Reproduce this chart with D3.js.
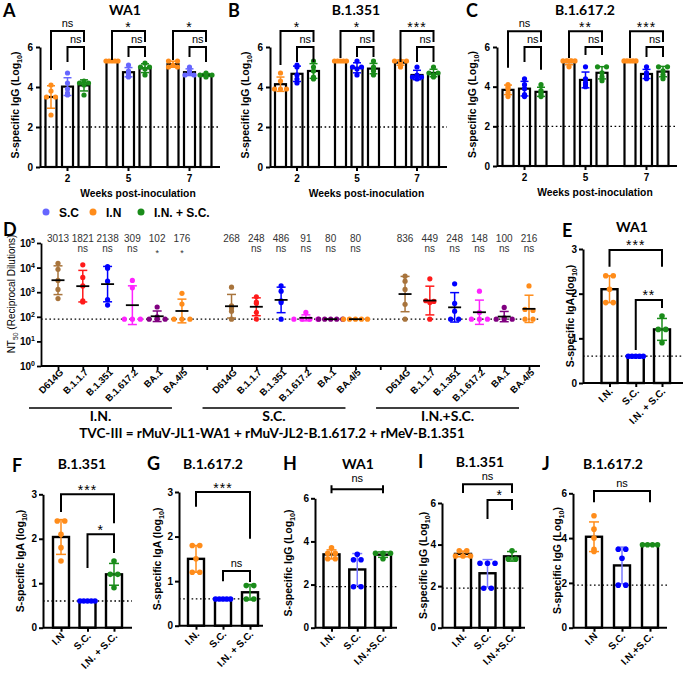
<!DOCTYPE html>
<html>
<head>
<meta charset="utf-8">
<script src="https://cdn.jsdelivr.net/npm/d3@7"></script>
<style>
body { margin: 0; background: #fff; }
text { font-family: "Liberation Sans", Arial, sans-serif; fill: #000; }
.cal { font-family: Lato, "Open Sans", sans-serif; font-weight: 700; }
</style>
</head>
<body>
<script>
const W = 683, H = 675;
const svg = d3.select("body").append("svg").attr("width", W).attr("height", H);

const ORANGE = "#ff8c1a", GREEN = "#1a8c1a", BLUE = "#0000ff", LBLUE = "#6666ff";

// ---------- A-C : S-specific IgG by week ----------
const weeks = ["2", "5", "7"];
const routes = ["I.N", "S.C", "I.N. + S.C."];
// [week][route] -> log10 titres per mouse
const iggWA1 = [
  [[4.1, 3.8, 3.5, 3.5, 2.6], [4.7, 4.2, 3.9, 3.7, 3.6], [4.3, 4.2, 4.2, 4.1, 3.6]],
  [[5.3, 5.3, 5.3, 5.3, 5.3], [5.1, 4.8, 4.7, 4.6, 4.5], [5.2, 5.0, 5.0, 4.9, 4.6]],
  [[5.3, 5.3, 5.1, 5.0, 5.0], [5.0, 4.8, 4.7, 4.6, 4.6], [4.7, 4.6, 4.6, 4.6, 4.5]]
];
const iggB1351 = [
  [[4.7, 4.3, 3.9, 3.9, 3.9], [5.1, 5.0, 4.6, 4.4, 4.2], [5.3, 5.0, 4.8, 4.5, 4.4]],
  [[5.3, 5.3, 5.3, 5.3, 5.3], [5.3, 5.0, 5.0, 4.9, 4.6], [5.3, 5.0, 4.9, 4.8, 4.6]],
  [[5.3, 5.3, 5.3, 5.2, 5.0], [5.0, 4.6, 4.5, 4.5, 4.4], [5.0, 4.7, 4.7, 4.6, 4.5]]
];
const iggB16172 = [
  [[4.1, 4.0, 3.9, 3.7, 3.5], [4.4, 4.1, 3.9, 3.6, 3.5], [4.1, 3.8, 3.7, 3.6, 3.5]],
  [[5.3, 5.3, 5.3, 5.3, 5.0], [5.0, 4.4, 4.2, 4.1, 4.0], [5.0, 5.0, 4.7, 4.5, 4.3]],
  [[5.3, 5.3, 5.3, 5.3, 5.3], [5.0, 4.7, 4.6, 4.5, 4.4], [5.0, 5.0, 4.8, 4.6, 4.4]]
];
const sigTopA = ["ns", "*", "*"], sigTopB = ["*", "*", "***"], sigTopC = ["ns", "**", "***"];
const sigLow = ["ns", "ns", "ns"];

// ---------- D : NT50 ----------
const variants = ["D614G", "B.1.1.7", "B.1.351", "B.1.617.2", "BA.1", "BA.4/5"];
const variantColors = ["#a8743c", "#ff1a1a", "#0000ff", "#ff22ff", "#800080", "#ff8c1a"];
const dRoutes = ["I.N.", "S.C.", "I.N.+S.C."];
const nt50IN = [
  [15000, 8500, 3000, 1300, 550], [13000, 4000, 1800, 450, 400], [11000, 9500, 2800, 500, 300],
  [3000, 1500, 80, 80, 80], [250, 100, 80, 80, 80], [900, 330, 80, 80, 80]
];
const nt50SC = [
  [1600, 280, 230, 170, 80], [650, 400, 350, 150, 80], [1800, 1100, 450, 380, 80],
  [150, 80, 80, 80, 80], [80, 80, 80, 80, 80], [80, 80, 80, 80, 80]
];
const nt50INSC = [
  [4500, 2800, 1300, 320, 80], [3500, 450, 420, 380, 80], [2200, 350, 170, 80, 80],
  [1100, 150, 80, 80, 80], [240, 90, 80, 80, 80], [1800, 200, 180, 80, 80]
];
const gmtIN = ["3013", "1821", "2138", "309", "102", "176"];
const gmtSC = ["268", "248", "486", "91", "80", "80"];
const gmtINSC = ["836", "449", "248", "148", "100", "216"];
const sigIN = ["", "ns", "ns", "ns", "*", "*"];
const sigSC = ["", "ns", "ns", "ns", "ns", "ns"];
const sigINSC = ["", "ns", "ns", "ns", "ns", "ns"];

// ---------- E-J : IgA / IgG per route ----------
const igaWA1 = [[2.4, 2.4, 2.1, 1.8, 1.8], [0.6, 0.6, 0.6, 0.6, 0.6], [1.5, 1.2, 1.2, 0.9]];
const igaB1351 = [[2.4, 2.4, 2.1, 1.8, 1.5], [0.6, 0.6, 0.6, 0.6, 0.6], [1.5, 1.2, 1.2, 0.9]];
const igaB16172 = [[1.8, 1.8, 1.5, 1.2, 1.2], [0.6, 0.6, 0.6, 0.6, 0.6], [0.9, 0.9, 0.6, 0.6]];
const iggWA1b = [[3.7, 3.45, 3.45, 3.2, 3.2], [3.4, 3.15, 3.15, 1.9, 1.9], [3.45, 3.45, 3.45, 3.2]];
const iggB1351b = [[3.7, 3.7, 3.45, 3.45, 3.45], [3.1, 3.1, 3.1, 1.9, 1.9], [3.7, 3.3, 3.3]];
const iggB16172b = [[5.0, 4.4, 4.0, 3.5, 3.4], [3.5, 3.5, 3.1, 1.9, 1.9], [3.7, 3.7, 3.7, 3.7]];

// ---------- helpers ----------
function spread(vals, tol, gapFn) {
  const idx = vals.map((v, i) => i).sort((a, b) => vals[b] - vals[a]);
  const off = vals.map(() => 0);
  let i = 0;
  while (i < idx.length) {
    let j = i;
    while (j + 1 < idx.length && Math.abs(vals[idx[j + 1]] - vals[idx[i]]) <= tol) j++;
    const n = j - i + 1, step = gapFn(n);
    for (let k = i; k <= j; k++) off[idx[k]] = (k - i - (n - 1) / 2) * step;
    i = j + 1;
  }
  return off;
}

function styleAxis(sel, w) {
  sel.attr("font-family", null);
  sel.selectAll("path, line").attr("stroke", "#000").attr("stroke-width", w || 2);
  sel.selectAll("text").attr("font-weight", "bold").attr("font-size", 10).attr("fill", "#000");
}

function hline(g, x1, x2, y, dash) {
  g.append("line").attr("x1", x1).attr("x2", x2).attr("y1", y).attr("y2", y)
    .attr("stroke", "#000").attr("stroke-width", dash ? 1.3 : 2)
    .attr("stroke-dasharray", dash ? "1.6,2.6" : null);
}

function yLabel(x, y, main, sub, tail, size, weight) {
  const t = svg.append("text").attr("transform", `translate(${x},${y}) rotate(-90)`)
    .attr("text-anchor", "middle").attr("font-size", size).attr("font-weight", weight);
  t.append("tspan").text(main);
  t.append("tspan").attr("font-size", size * 0.68).attr("dy", 3).text(sub);
  t.append("tspan").attr("dy", -3).text(tail);
}

function letter(x, y, s) {
  svg.append("text").attr("class", "cal").attr("x", x).attr("y", y).attr("font-size", 18).text(s);
}
function title(x, y, s) {
  svg.append("text").attr("class", "cal").attr("x", x).attr("y", y).attr("font-size", 14)
    .attr("text-anchor", "middle").text(s);
}

// bracket: legs go down from level to ya / yb
function bracket(g, xa, xb, level, ya, yb, label) {
  g.append("path").attr("d", `M${xa},${ya}V${level}H${xb}V${yb}`)
    .attr("fill", "none").attr("stroke", "#000").attr("stroke-width", 2);
  const star = label.indexOf("*") >= 0;
  g.append("text").attr("x", (xa + xb) / 2).attr("y", star ? level + 0.5 : level - 4)
    .attr("text-anchor", "middle").attr("font-size", star ? 14 : 11)
    .attr("letter-spacing", star ? 1 : 0).text(label);
}

function errBar(g, cx, yLo, yHi, color, cap) {
  g.append("line").attr("x1", cx).attr("x2", cx).attr("y1", yLo).attr("y2", yHi)
    .attr("stroke", color).attr("stroke-width", 1.5);
  [yLo, yHi].forEach(yy => g.append("line").attr("x1", cx - cap).attr("x2", cx + cap)
    .attr("y1", yy).attr("y2", yy).attr("stroke", color).attr("stroke-width", 1.5));
}

// ---------- grouped IgG panels ----------
function timePanel(p) {
  const g = svg.append("g");
  const y = d3.scaleLinear().domain([0, 6]).range([p.y0, p.y6]);
  const x = d3.scaleBand().domain(weeks).range([p.left - 3, p.right]);
  const xi = d3.scalePoint().domain(routes).range([-16.5, 16.5]);
  const colors = [ORANGE, p.blue, GREEN];
  const cxOf = (wi, ri) => x(weeks[wi]) + x.bandwidth() / 2 + xi(routes[ri]);

  weeks.forEach((w, wi) => routes.forEach((r, ri) => {
    const v = p.data[wi][ri], m = d3.mean(v);
    const cx = cxOf(wi, ri);
    g.append("rect").attr("x", cx - 5.5).attr("width", 11).attr("y", y(m))
      .attr("height", y(0) - y(m)).attr("fill", "#fff").attr("stroke", "#000").attr("stroke-width", 2.2);
  }));
  hline(g, p.left, p.right, y(2), true);
  weeks.forEach((w, wi) => routes.forEach((r, ri) => {
    const v = p.data[wi][ri], m = d3.mean(v), s = d3.deviation(v);
    const cx = cxOf(wi, ri);
    errBar(g, cx, y(m - s), y(Math.min(m + s, 5.6)), colors[ri], 4);
    const off = spread(v, 0.06, n => n <= 2 ? 9 : 12 / (n - 1));
    v.forEach((d, k) => g.append("circle").attr("cx", cx + off[k]).attr("cy", y(d))
      .attr("r", 2.6).attr("fill", colors[ri]));
  }));

  const ya = g.append("g").attr("transform", `translate(${p.left},0)`)
    .call(d3.axisLeft(y).tickValues([0, 2, 4, 6]).tickFormat(d3.format("d"))
      .tickSize(4).tickSizeOuter(0).tickPadding(3));
  styleAxis(ya);
  const xa = g.append("g").attr("transform", `translate(0,${p.y0})`)
    .call(d3.axisBottom(x).tickSize(4).tickPadding(4));
  xa.select(".domain").remove();
  styleAxis(xa);
  hline(g, p.left, p.right, p.y0);

  p.sigTop.forEach((t, wi) => {
    const [l1, l2, l3] = p.legs[wi];
    bracket(g, cxOf(wi, 0), cxOf(wi, 2), y(6.8), y(l1), y(6.25), t);
    bracket(g, cxOf(wi, 1), cxOf(wi, 2), y(6.0), y(l2), y(l3), sigLow[wi]);
  });

  g.append("text").attr("x", (p.left + p.right) / 2 + 8).attr("y", p.y0 + 30)
    .attr("text-anchor", "middle").attr("font-size", 10.3).attr("font-weight", "bold")
    .text("Weeks post-inoculation");
  yLabel(p.left - 21, (p.y0 + p.y6) / 2 - 2, "S-specific IgG (Log", "10", ")", 10.5, "bold");
  letter(p.letterX, 17, p.letter);
  title(p.titleX, 15, p.title);
}

timePanel({ left: 40, right: 220, y0: 167, y6: 47, data: iggWA1, blue: LBLUE, sigTop: sigTopA,
  legs: [[4.85, 5.25, 4.85], [5.35, 5.5, 5.5], [5.35, 5.5, 5.25]],
  letter: "A", letterX: 3, title: "WA1", titleX: 125 });
timePanel({ left: 270, right: 447, y0: 167, y6: 47, data: iggB1351, blue: BLUE, sigTop: sigTopB,
  legs: [[5.1, 5.25, 5.25], [5.45, 5.5, 5.5], [5.25, 5.25, 5.25]],
  letter: "B", letterX: 228, title: "B.1.351", titleX: 356 });
timePanel({ left: 497, right: 677, y0: 166, y6: 47, data: iggB16172, blue: BLUE, sigTop: sigTopC,
  legs: [[4.95, 5.25, 4.85], [5.45, 5.6, 5.6], [5.45, 5.5, 5.5]],
  letter: "C", letterX: 466, title: "B.1.617.2", titleX: 585 });

// legend
const legItems = [["S.C", LBLUE, 46], ["I.N", ORANGE, 93], ["I.N. + S.C.", GREEN, 141]];
legItems.forEach(([t, c, lx]) => {
  svg.append("circle").attr("cx", lx).attr("cy", 212).attr("r", 3.5).attr("fill", c);
  svg.append("text").attr("x", lx + 13).attr("y", 216.5).attr("font-size", 12)
    .attr("font-weight", "bold").text(t);
});

// ---------- D ----------
(function () {
  const g = svg.append("g");
  const slots = [];
  dRoutes.forEach((r, ri) => {
    variants.forEach(v => slots.push(r + "|" + v));
    if (ri < 2) slots.push("gap" + ri);
  });
  const x = d3.scalePoint().domain(slots).range([58, 529]);
  const y = d3.scaleLog().domain([1, 1e5]).range([366, 243]);
  const sets = [[nt50IN, gmtIN, sigIN], [nt50SC, gmtSC, sigSC], [nt50INSC, gmtINSC, sigINSC]];

  hline(g, 41, 540, y(80), true);

  sets.forEach(([vals, gmt, sig], ri) => {
    variants.forEach((v, vi) => {
      const cx = x(dRoutes[ri] + "|" + v);
      const logs = vals[vi].map(Math.log10);
      const m = d3.mean(logs), s = d3.deviation(logs);
      const col = variantColors[vi];
      if (s > 0.01) errBar(g, cx, y(Math.pow(10, m - s)), y(Math.pow(10, m + s)), col, 4.5);
      const off = spread(logs, 0.05, n => n <= 3 ? 8 : 24 / (n - 1));
      logs.forEach((d, k) => g.append("circle").attr("cx", cx + off[k]).attr("cy", y(Math.pow(10, d)))
        .attr("r", 2.6).attr("fill", col));
      g.append("line").attr("x1", cx - 6.5).attr("x2", cx + 6.5)
        .attr("y1", y(Math.pow(10, m))).attr("y2", y(Math.pow(10, m)))
        .attr("stroke", "#000").attr("stroke-width", 1.8);
      g.append("text").attr("x", cx).attr("y", 241.5).attr("text-anchor", "middle")
        .attr("font-size", 10).style("fill", "#333").text(gmt[vi]);
      if (sig[vi]) g.append("text").attr("x", cx).attr("y", sig[vi] === "*" ? 256 : 252)
        .attr("text-anchor", "middle").attr("font-size", sig[vi] === "*" ? 9 : 10)
        .style("fill", "#333").text(sig[vi]);
      g.append("text").attr("transform", `translate(${cx + 6},${373}) rotate(-45)`)
        .attr("text-anchor", "end").attr("font-size", 9.5).attr("font-weight", "bold").text(v);
    });
    const x1 = x(dRoutes[ri] + "|" + variants[0]) - 29, x2 = x(dRoutes[ri] + "|" + variants[5]) - 10;
    g.append("line").attr("x1", x1).attr("x2", x2).attr("y1", 408).attr("y2", 408)
      .attr("stroke", "#000").attr("stroke-width", 1.3);
    g.append("text").attr("class", "cal").attr("x", (x1 + x2) / 2).attr("y", 421)
      .attr("text-anchor", "middle").attr("font-size", 14).text(dRoutes[ri]);
  });

  const ya = g.append("g").attr("transform", "translate(41,0)")
    .call(d3.axisLeft(y).tickValues([1, 10, 100, 1e3, 1e4, 1e5]).tickSize(4).tickSizeOuter(0).tickFormat(""));
  styleAxis(ya, 1.8);
  ya.selectAll(".tick").append("text").attr("x", -6).attr("dy", "0.35em").attr("text-anchor", "end")
    .attr("font-size", 10).attr("font-weight", "bold")
    .each(function (d) {
      const t = d3.select(this);
      t.append("tspan").text("10");
      t.append("tspan").attr("dy", -4).attr("font-size", 7).text(Math.round(Math.log10(d)));
    });
  const xa = g.append("g").attr("transform", "translate(0,366)")
    .call(d3.axisBottom(x).tickSize(4).tickFormat(""));
  xa.select(".domain").remove();
  styleAxis(xa, 1.8);
  g.append("line").attr("x1", 41).attr("x2", 540).attr("y1", 366).attr("y2", 366)
    .attr("stroke", "#000").attr("stroke-width", 1.8);

  yLabel(15, 294, "NT", "50", " (Reciprocal  Dilutions)", 10, "normal");
  letter(3, 236, "D");
  svg.append("text").attr("class", "cal").attr("x", 272).attr("y", 438).attr("text-anchor", "middle")
    .attr("font-size", 13.5).text("TVC-III = rMuV-JL1-WA1 + rMuV-JL2-B.1.617.2 + rMeV-B.1.351");
})();

// ---------- E-J ----------
function catPanel(p) {
  const g = svg.append("g");
  const y = d3.scaleLinear().domain([0, p.ymax]).range([p.y0, p.yTop]);
  const x = d3.scalePoint().domain(p.cats).range(p.cx);
  const colors = [ORANGE, BLUE, GREEN];
  const ebColors = [ORANGE, p.lightBlue ? "#7a7aff" : BLUE, GREEN];

  p.data.forEach((v, ri) => {
    const m = d3.mean(v), cx = x(p.cats[ri]);
    g.append("rect").attr("x", cx - 8).attr("width", 16).attr("y", y(m))
      .attr("height", y(0) - y(m)).attr("fill", "#fff").attr("stroke", "#000").attr("stroke-width", 2.4);
  });
  hline(g, p.left, p.right, y(p.lod), true);
  p.data.forEach((v, ri) => {
    const m = d3.mean(v), s = d3.deviation(v), cx = x(p.cats[ri]);
    if (s > 0.01) errBar(g, cx, y(m - s), y(m + s), ebColors[ri], 5);
    const off = spread(v, 0.06, n => n <= 3 ? 7.5 : 15 / (n - 1));
    v.forEach((d, k) => g.append("circle").attr("cx", cx + off[k]).attr("cy", y(d))
      .attr("r", 2.8).attr("fill", colors[ri]));
  });

  const ya = g.append("g").attr("transform", `translate(${p.left},0)`)
    .call(d3.axisLeft(y).tickValues(p.ticks).tickFormat(d3.format("d"))
      .tickSize(4).tickSizeOuter(0).tickPadding(2));
  styleAxis(ya);
  const xa = g.append("g").attr("transform", `translate(0,${p.y0})`)
    .call(d3.axisBottom(x).tickSize(4).tickFormat(""));
  xa.select(".domain").remove();
  styleAxis(xa);
  hline(g, p.left, p.right, p.y0);
  p.cats.forEach(c => g.append("text")
    .attr("transform", `translate(${x(c) + 4},${p.y0 + 9}) rotate(-45)`)
    .attr("text-anchor", "end").attr("font-size", 10).attr("font-weight", "bold").text(c));

  p.brackets.forEach(([a, b, lvl, la, lb, t]) => {
    const xa1 = x(p.cats[a]), xb1 = x(p.cats[b]);
    if (la === null) {
      g.append("path").attr("d", `M${xa1},${y(lvl) - 4}V${y(lvl) + 4}M${xa1},${y(lvl)}H${xb1}M${xb1},${y(lvl) - 4}V${y(lvl) + 4}`)
        .attr("stroke", "#000").attr("stroke-width", 2).attr("fill", "none");
      g.append("text").attr("x", (xa1 + xb1) / 2).attr("y", y(lvl) - 7).attr("text-anchor", "middle")
        .attr("font-size", 11).text(t);
    } else {
      bracket(g, xa1, xb1, y(lvl), y(la), y(lb), t);
    }
  });

  yLabel(p.ylx, (p.y0 + p.yTop) / 2, p.ytext, "10", ")", 10.5, "bold");
  letter(p.lx, p.ly, p.letter);
  title(p.tx, p.ty, p.title);
}

catPanel({ letter: "E", lx: 562, ly: 237, title: "WA1", tx: 632, ty: 232,
  left: 583, right: 683, cx: [609.5, 662], y0: 383, yTop: 249, ymax: 3, ticks: [0, 1, 2, 3],
  cats: ["I.N.", "S.C.", "I.N. + S.C."], data: igaWA1, lod: 0.6, ylx: 574, ytext: "S-specific IgA (log",
  brackets: [[0, 2, 2.98, 2.6, 2.6, "***"], [1, 2, 1.86, 0.74, 1.68, "**"]] });
catPanel({ letter: "F", lx: 12, ly: 472, title: "B.1.351", tx: 82, ty: 469,
  left: 43, right: 132, cx: [61, 114], y0: 627.7, yTop: 494.3, ymax: 3, ticks: [0, 1, 2, 3],
  cats: ["I.N", "S.C.", "I.N. + S.C."], data: igaB1351, lod: 0.6, ylx: 24, ytext: "S-specific IgA (log",
  brackets: [[0, 2, 3.0, 2.6, 2.35, "***"], [1, 2, 2.1, 1.34, 1.68, "*"]] });
catPanel({ letter: "G", lx: 147, ly: 470, title: "B.1.617.2", tx: 213, ty: 469,
  left: 179, right: 263, cx: [196, 250], y0: 625.7, yTop: 492, ymax: 3, ticks: [0, 1, 2, 3],
  cats: ["I.N.", "S.C.", "I.N. + S.C."], data: igaB16172, lod: 0.6, ylx: 161, ytext: "S-specific IgA (log",
  brackets: [[0, 2, 3.0, 2.67, 1.95, "***"], [1, 2, 1.23, 1.0, 0.98, "ns"]] });
catPanel({ letter: "H", lx: 283, ly: 470, title: "WA1", tx: 358, ty: 469,
  left: 315, right: 397, cx: [331.5, 383], y0: 627.7, yTop: 498.3, ymax: 6, ticks: [0, 2, 4, 6],
  cats: ["I.N.", "S.C.", "I.N.+S.C."], data: iggWA1b, lod: 1.9, lightBlue: true, ylx: 292, ytext: "S-specific IgG (Log",
  brackets: [[0, 2, 6.42, null, null, "ns"]] });
catPanel({ letter: "I", lx: 418, ly: 468, title: "B.1.351", tx: 480, ty: 467,
  left: 442, right: 525, cx: [463, 512], y0: 627.7, yTop: 503, ymax: 6, ticks: [0, 2, 4, 6],
  cats: ["I.N.", "S.C.", "I.N.+S.C."], data: iggB1351b, lod: 1.9, lightBlue: true, ylx: 427, ytext: "S-specific IgG (Log",
  brackets: [[0, 2, 6.9, 6.48, 6.48, "ns"], [1, 2, 6.15, 5.23, 5.66, "*"]] });
catPanel({ letter: "J", lx: 542, ly: 470, title: "B.1.617.2", tx: 613, ty: 469,
  left: 573, right: 667, cx: [594, 650], y0: 627.7, yTop: 493.3, ymax: 6, ticks: [0, 2, 4, 6],
  cats: ["I.N", "S.C.", "I.N.+S.C."], data: iggB16172b, lod: 1.9, lightBlue: true, ylx: 561, ytext: "S-specific IgG (Log",
  brackets: [[0, 2, 6.1, 5.6, 5.6, "ns"]] });
</script>
</body>
</html>
